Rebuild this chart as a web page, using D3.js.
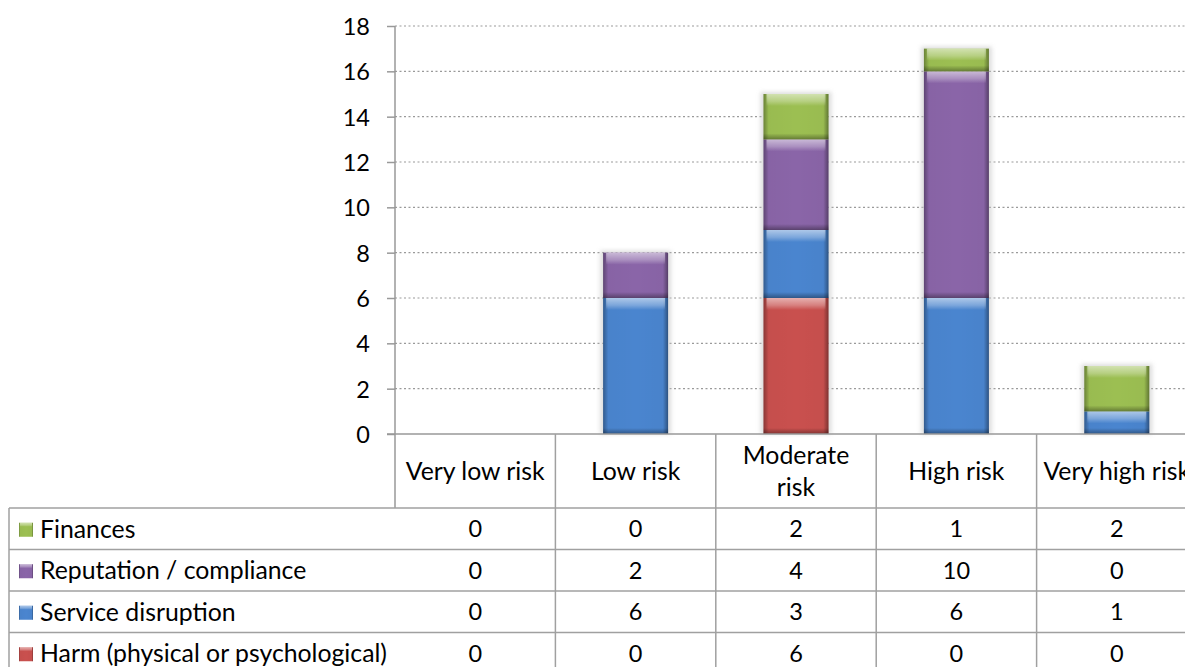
<!DOCTYPE html>
<html>
<head>
<meta charset="utf-8">
<script src="https://cdn.jsdelivr.net/npm/d3@7"></script>
<style>
  html, body { margin: 0; padding: 0; background: #fff; }
  svg { display: block; font-family: Lato, "Liberation Sans", sans-serif; }
</style>
</head>
<body>
<svg id="chart" width="1185" height="667"></svg>
<script>
(function () {
// Risk categories along the x axis
const categories = ["Very low risk", "Low risk", "Moderate risk", "High risk", "Very high risk"];
// Header labels (line-broken where needed)
const headerLines = [["Very low risk"], ["Low risk"], ["Moderate", "risk"], ["High risk"], ["Very high risk"]];
// Series, stacked bottom to top
const seriesNames = ["Harm (physical or psychological)", "Service disruption", "Reputation / compliance", "Finances"];
const harm       = [0, 0, 6, 0, 0];
const disruption = [0, 6, 3, 6, 1];
const reputation = [0, 2, 4, 10, 0];
const finances   = [0, 0, 2, 1, 2];
const yTicks = [0, 2, 4, 6, 8, 10, 12, 14, 16, 18];
const colors = ["#c9504e", "#4a85cf", "#8a65a8", "#9cbf52"];

const FS_NUM = 23.5;   // numbers (axis ticks, table values)
const FS_TXT = 24.8;   // words (headers, row labels)

const seriesValues = [harm, disruption, reputation, finances];
const rows = categories.map((c, i) => {
  const r = { cat: c };
  seriesNames.forEach((s, k) => r[s] = seriesValues[k][i]);
  return r;
});

const svg = d3.select("#chart");
const W = 1185;
const plotLeft = 395, plotTop = 26, base = 434;
const colW = 160.4;

const x = d3.scaleBand().domain(categories).range([plotLeft, plotLeft + colW * categories.length]).padding(0);
const y = d3.scaleLinear().domain([0, 18]).range([base, plotTop]);
const barW = x.bandwidth() * 0.405;

const defs = svg.append("defs");
const hg = defs.append("linearGradient").attr("id", "sides");
[[0, 0.32], [0.08, 0.02], [0.5, 0], [0.92, 0.02], [1, 0.38]].forEach(([o, a]) =>
  hg.append("stop").attr("offset", o).attr("stop-color", "#000").attr("stop-opacity", a));
const tg = defs.append("linearGradient").attr("id", "topHi").attr("x1", 0).attr("x2", 0).attr("y1", 0).attr("y2", 1);
[[0, 0.55], [0.6, 0.28], [1, 0]].forEach(([o, a]) =>
  tg.append("stop").attr("offset", o).attr("stop-color", "#fff").attr("stop-opacity", a));
const bg = defs.append("linearGradient").attr("id", "botSh").attr("x1", 0).attr("x2", 0).attr("y1", 0).attr("y2", 1);
[[0, 0], [1, 0.35]].forEach(([o, a]) =>
  bg.append("stop").attr("offset", o).attr("stop-color", "#000").attr("stop-opacity", a));
defs.append("filter").attr("id", "halo").attr("x", "-30%").attr("y", "-10%").attr("width", "160%").attr("height", "120%")
  .append("feGaussianBlur").attr("stdDeviation", 2);

// Gridlines
svg.append("g").selectAll("line").data(yTicks.slice(1)).join("line")
  .attr("x1", plotLeft).attr("x2", W).attr("y1", d => y(d)).attr("y2", d => y(d))
  .attr("stroke", "#9a9a9a").attr("stroke-width", 1.2).attr("stroke-dasharray", "2,2.5");

// Y axis
const yAxis = d3.axisLeft(y).tickValues(yTicks).tickSize(8).tickPadding(17);
const gy = svg.append("g").attr("transform", `translate(${plotLeft},0)`).call(yAxis);
gy.select(".domain").remove();
gy.selectAll(".tick line").attr("stroke", "#999").attr("stroke-width", 1.5);
gy.selectAll(".tick text").attr("font-size", FS_NUM).attr("fill", "#000").attr("font-family", "Lato").attr("dy", "0.36em");
svg.append("line").attr("x1", plotLeft).attr("x2", plotLeft).attr("y1", plotTop).attr("y2", 508)
  .attr("stroke", "#999").attr("stroke-width", 1.5);

// Stacked bars
const stack = d3.stack().keys(seriesNames)(rows);
const barX = d => x(d.data.cat) + (x.bandwidth() - barW) / 2;
const segs = [];
stack.forEach((layer, k) => layer.forEach(d => {
  if (d[1] - d[0] > 0) segs.push({ k, d });
}));

// soft halo behind each full column
const totals = rows.map(r => seriesNames.reduce((s, n) => s + r[n], 0));
svg.append("g").selectAll("rect").data(rows.filter((r, i) => totals[i] > 0)).join("rect")
  .attr("x", r => x(r.cat) + (x.bandwidth() - barW) / 2 - 3)
  .attr("width", barW + 6)
  .attr("y", r => y(seriesNames.reduce((s, n) => s + r[n], 0)) - 2)
  .attr("height", r => base - y(seriesNames.reduce((s, n) => s + r[n], 0)) + 2)
  .attr("fill", "#c8c8c8").attr("opacity", 0.6).attr("filter", "url(#halo)");

const gBars = svg.append("g");
segs.forEach(({ k, d }) => {
  const bx = barX(d), by = y(d[1]), bh = y(d[0]) - y(d[1]);
  const g = gBars.append("g");
  g.append("rect").attr("x", bx).attr("y", by).attr("width", barW).attr("height", bh).attr("fill", colors[k]);
  g.append("rect").attr("x", bx).attr("y", by).attr("width", barW).attr("height", bh).attr("fill", "url(#sides)");
  g.append("rect").attr("x", bx + 3).attr("y", by).attr("width", barW - 6).attr("height", Math.min(12, bh)).attr("fill", "url(#topHi)");
  g.append("rect").attr("x", bx).attr("y", by + bh - 6).attr("width", barW).attr("height", 6).attr("fill", "url(#botSh)");
});

// Category axis line
svg.append("line").attr("x1", 387).attr("x2", W).attr("y1", base).attr("y2", base)
  .attr("stroke", "#999").attr("stroke-width", 1.5);

// Data table
const tableTop = 508, rowH = 41.5, tableLeft = 9;
const tableRows = [...seriesNames].reverse();
const tableVals = [finances, reputation, disruption, harm];
const tableColors = [colors[3], colors[2], colors[1], colors[0]];
const grid = svg.append("g").attr("stroke", "#a0a0a0").attr("stroke-width", 1.5);
for (let i = 0; i <= tableRows.length; i++) {
  grid.append("line").attr("x1", tableLeft).attr("x2", W)
    .attr("y1", tableTop + i * rowH).attr("y2", tableTop + i * rowH);
}
grid.append("line").attr("x1", tableLeft).attr("x2", tableLeft).attr("y1", tableTop).attr("y2", 667);
categories.forEach((c, i) => {
  grid.append("line").attr("x1", x(c) + colW).attr("x2", x(c) + colW).attr("y1", base).attr("y2", 667);
});

// header labels
const hdr = svg.append("g").attr("font-size", FS_TXT).attr("text-anchor", "middle").attr("fill", "#000");
categories.forEach((c, i) => {
  const lines = headerLines[i];
  const cx = x(c) + colW / 2;
  const cy = (base + tableTop) / 2;
  lines.forEach((ln, j) => {
    hdr.append("text").attr("x", cx).attr("y", cy + (j - (lines.length - 1) / 2) * 32)
      .attr("dy", "0.36em").text(ln);
  });
});

// row labels, legend keys and values
const body = svg.append("g").attr("fill", "#000");
tableRows.forEach((name, r) => {
  const cy = tableTop + r * rowH + rowH / 2;
  const kx = 19, ks = 14;
  body.append("rect").attr("x", kx).attr("y", cy - ks / 2 + 1).attr("width", ks).attr("height", ks).attr("fill", tableColors[r]);
  body.append("rect").attr("x", kx).attr("y", cy - ks / 2 + 1).attr("width", ks).attr("height", ks).attr("fill", "url(#sides)");
  body.append("rect").attr("x", kx + 1).attr("y", cy - ks / 2 + 1).attr("width", ks - 2).attr("height", 4).attr("fill", "url(#topHi)");
  body.append("text").attr("x", 40).attr("y", cy).attr("dy", "0.36em").attr("font-size", FS_TXT).text(name);
  categories.forEach((c, i) => {
    body.append("text").attr("x", x(c) + colW / 2).attr("y", cy).attr("dy", "0.36em")
      .attr("font-size", FS_NUM).attr("text-anchor", "middle").text(tableVals[r][i]);
  });
});
})();
</script>
</body>
</html>
